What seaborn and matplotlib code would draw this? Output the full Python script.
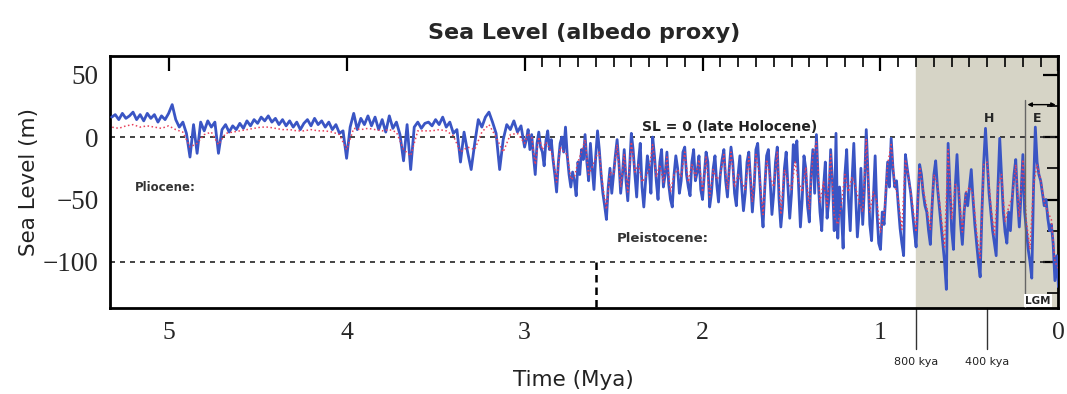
import numpy as np
import pandas as pd
import matplotlib
matplotlib.use("Agg")
import matplotlib.pyplot as plt
import seaborn as sns

# blue curve, Pliocene part: 5.32 -> 3.00 Mya, every 0.02 Myr
blue_plio = [16, 18, 14, 19, 15, 17, 20, 14, 18, 13, 19, 15, 18, 12, 17, 14, 19,
             26, 14, 8, 12, 3, -16, 10, -13, 12, 5, 13, 8, 12, -13, 6, 10, 4, 9, 6,
             11, 7, 13, 9, 14, 11, 16, 13, 17, 12, 15, 10, 14, 9, 13, 8, 12, 6, 11,
             14, 9, 15, 10, 13, 8, 12, 6, 10, 3, 5, -17, 8, 19, 6, 15, 10, 17, 9, 16,
             6, 14, 4, 17, 7, 12, 2, -19, 10, -26, 8, 12, 7, 11, 12, 9, 14, 10, 16,
             8, 12, 3, 6, -20, 4, -12, -26, -5, 14, 8, 16, 20, 12, 3, -26, -2, 10,
             6, 13, 4, 9, -8]

# blue curve, Pleistocene part: 2.99 -> 0.00 Mya, every 0.01 Myr
blue_pleis = [
    -2, 6, -10, 2, -15, -30, -5, 4, -8, -12,          # 2.99-2.90
    -23, -3, 5, -10, -2, -18, -30, -44, -20, -5,       # 2.89-2.80
    0, -12, 8, -15, -30, -40, -28, -35, -47, -20,      # 2.79-2.70
    -30, -10, -18, 2, -20, -35, -5, -25, -42, -15,     # 2.69-2.60
    5, -10, -30, -45, -55, -66, -40, -25, -45, -30,    # 2.59-2.50
    -15, -2, -20, -45, -30, -10, -35, -51, -25, 3,     # 2.49-2.40
    -10, -30, -48, -20, -5, -40, -56, -35, -15, -25,   # 2.39-2.30
    -45, 0, -15, -35, -50, -20, -10, -40, -30, -12,    # 2.29-2.20
    -38, -50, -56, -30, -15, -25, -45, -35, -12, -8,   # 2.19-2.10
    -30, -40, -47, -20, -10, -35, -28, -15, -42, -50,  # 2.09-2.00
    -30, -12, -20, -56, -45, -25, -15, -38, -52, -30,  # 1.99-1.90
    -18, -10, -35, -48, -25, -8, -20, -45, -55, -30,   # 1.89-1.80
    -15, -40, -59, -45, -20, -12, -35, -60, -40, -10,  # 1.79-1.70
    -5, -30, -55, -72, -40, -15, -10, -35, -62, -45,   # 1.69-1.60
    -20, -8, -50, -72, -55, -25, -12, -40, -65, -45,   # 1.59-1.50
    -6, -20, -3, -40, -72, -50, -15, -25, -55, -68,    # 1.49-1.40
    -30, -10, -45, 2, -35, -60, -75, -40, -20, -65,    # 1.39-1.30
    -50, -10, -35, -75, 3, -81, -40, -60, -89, -30,    # 1.29-1.20
    -10, -50, -75, -35, -5, -45, -80, -60, -25, -70,   # 1.19-1.10
    -40, 6, -30, -70, -83, -50, -15, -60, -85, -90,    # 1.09-1.00
    -60, -70, -45, -20, -40, -1, -25, -40, -35, -55,   # 0.99-0.90
    -73, -85, -95, -14, -25, -35, -45, -60, -75, -88,  # 0.89-0.80
    -50, -22, -30, -45, -55, -60, -75, -86, -55, -30,  # 0.79-0.70
    -19, -40, -55, -70, -85, -100, -122, -5, -40, -75, # 0.69-0.60
    -90, -40, -14, -45, -70, -86, -60, -45, -55, -40,  # 0.59-0.50
    -26, -50, -70, -85, -100, -112, -60, -20, 7, -20,  # 0.49-0.40
    -45, -60, -75, -85, -95, -40, -1, -30, -60, -76,   # 0.39-0.30
    -85, -60, -75, -50, -30, -18, -50, -72, -45, -14,  # 0.29-0.20
    -60, -75, -90, -100, -113, -40, 8, -20, -30, -35,  # 0.19-0.10
    -45, -55, -50, -65, -75, -70, -85, -115, -95, -120,  # 0.09-0.00
]

# red dotted curve: 5.32 -> 3.00 every 0.04, then 2.98 -> 0.00 every 0.02
red_plio = [8, 7, 9, 10, 8, 9, 8, 7, 9, 6, 4, -8, -5, 2, 4, -6, 3, 4, 5, 6, 7, 8,
            8, 7, 6, 6, 5, 5, 6, 5, 5, 4, 2, -10, 7, 6, 7, 6, 5, 6, 4, -10, -15,
            5, 5, 5, 6, 5, 1, -12, -8, -10, 4, 10, 0, -12, 2, 3, -5]
red_pleis = [
    3, 0, -22, 0, -10, -4, -9, -16, -36, -8, -12, -14, -34, -32, -20, -12, -2,
    -30, -24, -16, -12, -40, -58, -28, -30,
    -6, -40, -14, -44, -4, -28, -22, -36, -32, -26,
    -6, -32, -22, -36, -16, -44, -30, -26, -32, -12,
    -36, -22, -32, -18, -44,
    -16, -48, -26, -34, -30, -14, -42, -12, -40, -30,
    -36, -42, -16, -52, -14, -30, -62, -18, -32, -40,
    -12, -62, -26, -36, -42, -20, -36, -44, -24, -58,
    -14, -4, -52, -36, -56, -14, -64, -70, -54, -30,
    -44, -32, -40, -52, -60, -2, -60, -44, -52, -76,
    -62, -22, -6, -38, -50, -74, -18, -34, -54, -76,
    -24, -42, -56, -74, -30, -38, -62, -88, -10, -66,
    -38, -42, -76, -44, -40, -46, -76, -98, -22, -20,
    -55, -78, -40, -30, -68, -56, -48, -22, -64, -18,
    -68, -90, -38, -22, -34, -52, -60, -66, -100, -105,
]

x_ticks = [5, 4, 3, 2, 1, 0]
y_ticks = [50, 0, -50, -100]
glacial_start = 0.8       # shaded band
boundary = 2.6            # Pliocene / Pleistocene
e_start = 0.19            # left end of the "E" bracket / LGM line

n = len(blue_pleis)
t_pleis = np.round((n - 1 - np.arange(n)) * 0.01, 2)
m = len(blue_plio)
t_plio = np.round(3.0 + (m - 1 - np.arange(m)) * 0.02, 2)
blue = pd.DataFrame({"time": np.concatenate([t_plio, t_pleis[t_pleis < 3.0]]),
                     "sea": np.concatenate([blue_plio, np.array(blue_pleis)[t_pleis < 3.0]])})

k = len(red_pleis)
tr_pleis = np.round((k - 1 - np.arange(k)) * 0.02, 2)
j = len(red_plio)
tr_plio = np.round(3.0 + (j - 1 - np.arange(j)) * 0.04, 2)
red = pd.DataFrame({"time": np.concatenate([tr_plio, tr_pleis[tr_pleis < 3.0]]),
                    "sea": np.concatenate([red_plio, np.array(red_pleis)[tr_pleis < 3.0]])})

sns.set_theme(style="white")
plt.rcParams["font.family"] = ["DejaVu Sans"]

fig = plt.figure(figsize=(10.67, 3.94), dpi=100)
ax = fig.add_axes([0.103, 0.218, 0.889, 0.640])

ax.axvspan(glacial_start, 0, color="#d6d4c6", zorder=0)

sns.lineplot(data=blue, x="time", y="sea", ax=ax, color="#3a55c4", lw=2.0,
             estimator=None, zorder=3)
sns.lineplot(data=red, x="time", y="sea", ax=ax, color="#e8405a", lw=1.1,
             ls=":", estimator=None, zorder=4)

ax.axhline(0, color="#222222", ls=(0, (3, 3)), lw=1.2, zorder=2)
ax.axhline(-100, color="#222222", ls=(0, (3, 3)), lw=1.2, zorder=2)
ax.plot([boundary, boundary], [-100, -137], color="black", ls=(0, (3, 2)), lw=1.8)

ax.set_xlim(5.33, 0)
ax.set_ylim(-137, 65)

ax.set_xticks(x_ticks)
ax.set_xticks(np.round(np.arange(0, 3.0, 0.1), 1), minor=True)
ax.set_yticks(y_ticks)
ax.set_yticks([25, -25, -75, -125], minor=True)
ax.set_xticklabels([str(v) for v in x_ticks], family="Liberation Serif", fontsize=18.5)
ax.set_yticklabels([str(v).replace("-", "\u2212") for v in y_ticks],
                   family="Liberation Serif", fontsize=19.5)
ax.tick_params(which="both", direction="in", top=True, right=True, color="black")
ax.tick_params(which="major", length=11, width=1.6, pad=8)
ax.tick_params(which="minor", length=8, width=1.2)
ax.tick_params(axis="x", which="major", pad=10)
for s in ax.spines.values():
    s.set_linewidth(2)
    s.set_color("black")

ax.set_xlabel("")
ax.set_ylabel("Sea Level (m)", fontsize=15.5, color="#222222")
ax.yaxis.set_label_coords(-0.075, 0.5)
fig.text(0.537, 0.02, "Time (Mya)", fontsize=15.5, color="#222222", ha="center")
ax.set_title("Sea Level (albedo proxy)", fontsize=16, fontweight="bold", pad=12)

ax.text(5.19, -40, "Pliocene:", fontsize=8.5, fontweight="bold", color="#333333",
        va="center")
ax.text(2.48, -81, "Pleistocene:", fontsize=9.5, fontweight="bold", color="#333333",
        va="center")
ax.text(2.34, 8, "SL = 0 (late Holocene)", fontsize=10, fontweight="bold",
        color="#222222", va="center")
ax.text(0.39, 15, "H", fontsize=9, fontweight="bold", ha="center", va="center")
ax.text(0.12, 15, "E", fontsize=9, fontweight="bold", ha="center", va="center")

ax.plot([e_start, e_start], [-137, 30], color="#666666", lw=1.0, zorder=5)
ax.annotate("", xy=(0.0, 26), xytext=(e_start, 26),
            arrowprops=dict(arrowstyle="<|-|>", color="black", lw=1, mutation_scale=6))
ax.text(0.115, -131, "LGM", fontsize=7.5, fontweight="bold", ha="center", va="center",
        bbox=dict(facecolor="white", edgecolor="none", pad=1), zorder=6)

for tm, lab in [(0.8, "800 kya"), (0.4, "400 kya")]:
    ax.plot([tm, tm], [-137, -170], color="#333333", lw=1, clip_on=False)
    ax.text(tm, -180, lab, fontsize=8, ha="center", va="center", color="#222222",
            clip_on=False)

fig.savefig("out.png", dpi=100)
